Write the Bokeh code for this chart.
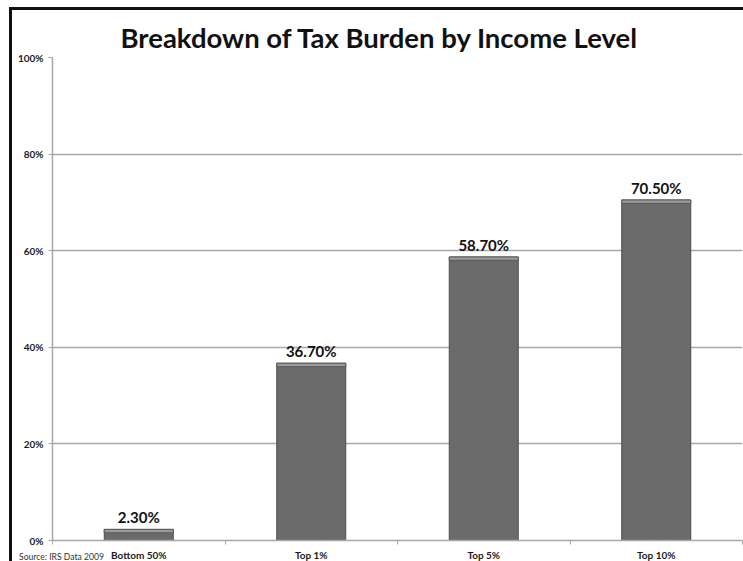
from bokeh.plotting import figure
from bokeh.models import FixedTicker, ColumnDataSource, Div
from bokeh.layouts import column
from bokeh.embed import file_html
from bokeh.resources import INLINE
from bokeh.core.properties import value

categories = ["Bottom 50%", "Top 1%", "Top 5%", "Top 10%"]
shares = [2.3, 36.7, 58.7, 70.5]
y_ticks = [0, 20, 40, 60, 80, 100]
y_tick_labels = ["0%", "20%", "40%", "60%", "80%", "100%"]
source_note = "Source: IRS Data 2009"
chart_title = "Breakdown of Tax Burden by Income Level"

xs = [i + 0.5 for i in range(len(categories))]
src = ColumnDataSource(dict(
    x=xs,
    top=shares,
    cap_bottom=[s - 0.7 for s in shares],
    label=[f"{s:.2f}%" for s in shares],
))

FONT = "Lato"

p = figure(width=731, height=553, output_backend="svg", toolbar_location=None,
           x_range=(0, len(categories)), y_range=(0, 100),
           min_border_left=40, min_border_right=1, min_border_bottom=23, min_border_top=47,
           title=chart_title)
p.margin = (3, 0, 0, 3)
p.styles = {"overflow": "hidden"}

p.title.text_font = FONT
p.title.text_font_size = "27.5px"
p.title.text_font_style = "bold"
p.title.text_color = "#111111"
p.title.align = "left"
p.title.offset = 68
p.title.standoff = 7

p.outline_line_color = None
p.background_fill_color = "white"
p.border_fill_color = "white"

# bars
p.vbar(x="x", top="top", bottom=0, width=0.4, source=src,
       fill_color="#6b6b6b", line_color="#4d4d4d", line_width=1)
p.vbar(x="x", top="top", bottom="cap_bottom", width=0.4, source=src,
       fill_color="#9a9a9a", line_color="#5a5a5a", line_width=1)
p.text(x="x", y="top", text="label", source=src, text_align="center",
       text_baseline="bottom", y_offset=-3, text_font=value(FONT),
       text_font_style="bold", text_font_size="15px", text_color="#111111")

# grid
p.xgrid.grid_line_color = None
p.ygrid.ticker = FixedTicker(ticks=y_ticks)
p.ygrid.grid_line_color = "#a8a8a8"
p.ygrid.grid_line_width = 1.5

# y axis
p.yaxis.ticker = FixedTicker(ticks=y_ticks)
p.yaxis.major_label_overrides = {t: l for t, l in zip(y_ticks, y_tick_labels)}
p.yaxis.axis_line_color = "#a8a8a8"
p.yaxis.axis_line_width = 1.5
p.yaxis.major_tick_line_color = "#a8a8a8"
p.yaxis.major_tick_in = 0
p.yaxis.major_tick_out = 4
p.yaxis.minor_tick_line_color = None
p.yaxis.major_label_text_font = FONT
p.yaxis.major_label_text_font_style = "bold"
p.yaxis.major_label_text_font_size = "10px"
p.yaxis.major_label_text_color = "#1a1a1a"
p.yaxis.major_label_standoff = 5

# x axis
p.xaxis.ticker = FixedTicker(ticks=xs, minor_ticks=list(range(len(categories) + 1)))
p.xaxis.major_label_overrides = {x: c for x, c in zip(xs, categories)}
p.xaxis.axis_line_color = "#a8a8a8"
p.xaxis.axis_line_width = 1.5
p.xaxis.major_tick_line_color = None
p.xaxis.minor_tick_line_color = "#a8a8a8"
p.xaxis.minor_tick_in = 0
p.xaxis.minor_tick_out = 4
p.xaxis.major_label_text_font = FONT
p.xaxis.major_label_text_font_style = "bold"
p.xaxis.major_label_text_font_size = "10px"
p.xaxis.major_label_text_color = "#1a1a1a"
p.xaxis.major_label_standoff = 2

note = Div(text=source_note, margin=(-11, 0, 0, 10), height=10, width=120,
           styles={"font-family": "Lato", "font-size": "8.6px", "color": "#333333",
                   "position": "relative", "z-index": "10", "line-height": "10px",
                   "overflow": "hidden"})

root = column(p, note, margin=(7, 0, 0, 9),
              styles={"overflow": "hidden",
                      "background": "linear-gradient(#111111, #111111) left top / 3px 100% no-repeat, "
                                    "linear-gradient(#111111, #111111) left top / 100% 3px no-repeat"})

html = file_html(root, INLINE)
html = html.replace("</head>", "<style>html, body { overflow: hidden; margin: 0; }</style></head>", 1)
open("out.html", "w").write(html)
